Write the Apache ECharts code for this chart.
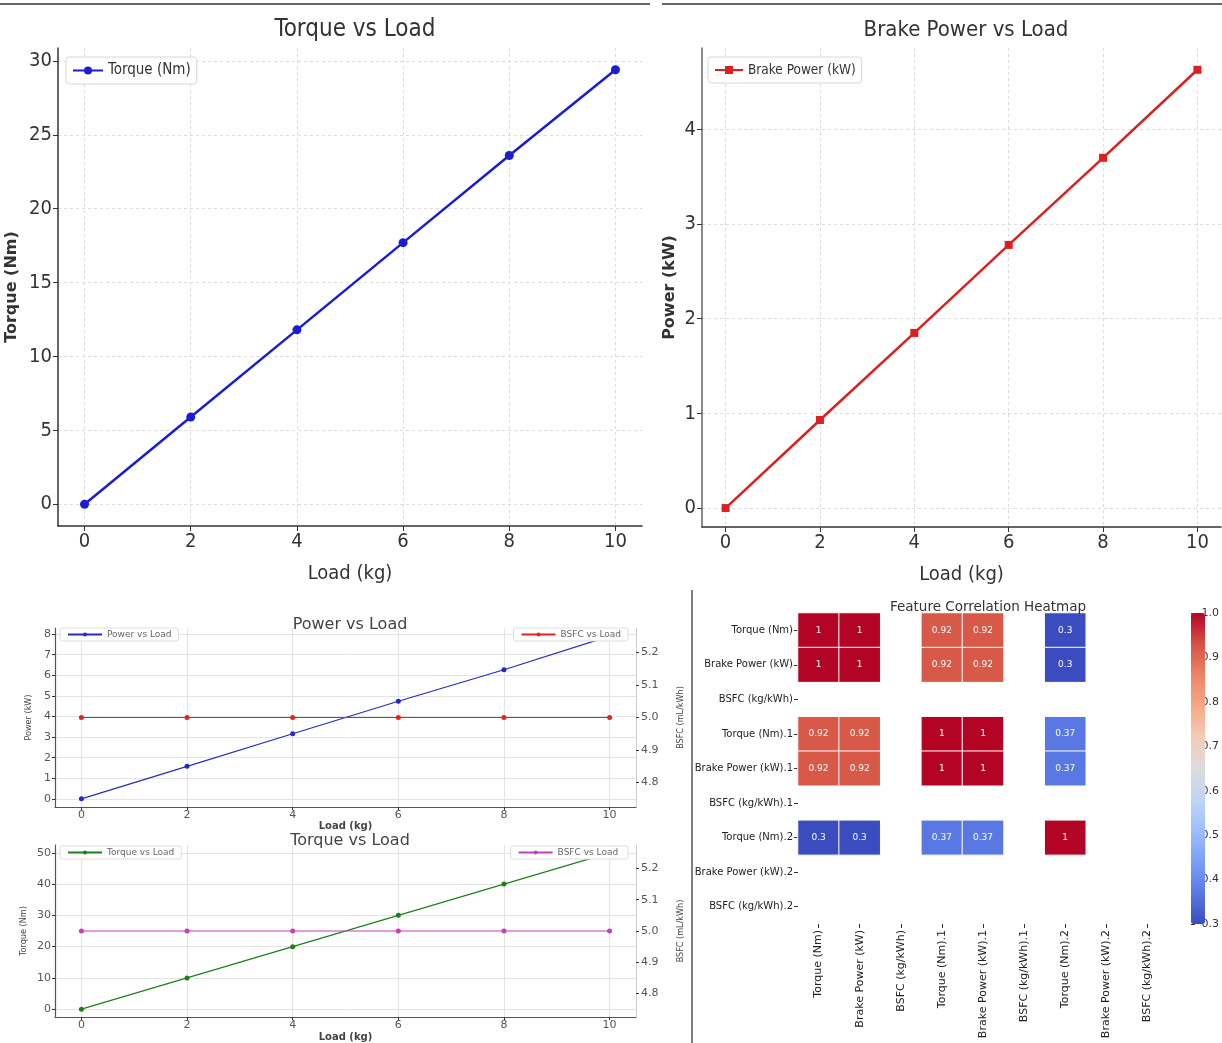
<!DOCTYPE html>
<html><head><meta charset="utf-8">
<script src="https://cdn.jsdelivr.net/npm/echarts@6/dist/echarts.min.js"></script>
<style>html,body{margin:0;padding:0;background:#fff}#c{width:1222px;height:1043px}</style>
</head><body><div id="c"></div><script>
// ---------- data ----------
const loadKg = [0, 2, 4, 6, 8, 10];
const torqueNm = [0, 5.9, 11.8, 17.7, 23.6, 29.4];
const brakePowerKW = [0, 0.93, 1.85, 2.78, 3.70, 4.63];
const powerVsLoad = [0, 1.58, 3.16, 4.74, 6.27, 7.9];
const bsfcPowerPanel = [5.0, 5.0, 5.0, 5.0, 5.0, 5.0];
const torqueVsLoad = [0, 10, 20, 30, 40, 50];
const bsfcTorquePanel = [5.0, 5.0, 5.0, 5.0, 5.0, 5.0];
const featureNames = ['Torque (Nm)', 'Brake Power (kW)', 'BSFC (kg/kWh)', 'Torque (Nm).1', 'Brake Power (kW).1', 'BSFC (kg/kWh).1', 'Torque (Nm).2', 'Brake Power (kW).2', 'BSFC (kg/kWh).2'];
const corrRow0 = [1, 1, null, 0.92, 0.92, null, 0.3, null, null];
const corrRow1 = [1, 1, null, 0.92, 0.92, null, 0.3, null, null];
const corrRow2 = [null, null, null, null, null, null, null, null, null];
const corrRow3 = [0.92, 0.92, null, 1, 1, null, 0.37, null, null];
const corrRow4 = [0.92, 0.92, null, 1, 1, null, 0.37, null, null];
const corrRow5 = [null, null, null, null, null, null, null, null, null];
const corrRow6 = [0.3, 0.3, null, 0.37, 0.37, null, 1, null, null];
const corrRow7 = [null, null, null, null, null, null, null, null, null];
const corrRow8 = [null, null, null, null, null, null, null, null, null];
const loadTicks = [0, 2, 4, 6, 8, 10];
const torqueTicks = [0, 5, 10, 15, 20, 25, 30];
const brakePowerTicks = [0, 1, 2, 3, 4];
const smallPowerTicks = [0, 1, 2, 3, 4, 5, 6, 7, 8];
const smallTorqueTicks = [0, 10, 20, 30, 40, 50];
const bsfcTicks = [4.8, 4.9, 5.0, 5.1, 5.2];
const coolwarm = ['#3b4cc0', '#5a78e4', '#7b9ff9', '#9ebeff', '#c0d4f5', '#dddcdc', '#f2cbb7', '#f7a889', '#ee8468', '#d65244', '#b40426'];

// ---------- helpers ----------
const pairs = (xs, ys) => xs.map((x, i) => [x, ys[i]]);
const corrRows = [corrRow0, corrRow1, corrRow2, corrRow3, corrRow4, corrRow5, corrRow6, corrRow7, corrRow8];
const heatData = [];
corrRows.forEach((row, i) => row.forEach((v, j) => { if (v !== null) heatData.push([j, i, v]); }));

const COND = '"DejaVu Sans Condensed", "Liberation Sans Narrow", "DejaVu Sans", sans-serif';
const DJ = '"DejaVu Sans", sans-serif';

function valueAxis(gi, min, max, ticks, o) {
  o = o || {};
  return Object.assign({
    type: 'value', gridIndex: gi, min: min, max: max,
    axisLine: { show: true, onZero: false, lineStyle: { color: o.lineColor || '#333', width: o.lineWidth || 1.5 } },
    axisTick: { show: true, customValues: ticks, length: o.tickLen || 5, lineStyle: { color: o.tickColor || '#333' } },
    axisLabel: { customValues: ticks, fontSize: o.fs || 20, color: o.labelColor || '#333', fontFamily: o.ff || COND, margin: o.margin || 6, formatter: o.fmt },
    splitLine: { show: o.split !== false, lineStyle: { color: o.splitColor || '#dcdcdc', type: o.splitType || [3, 3], width: 1 } }
  }, o.extra || {});
}

const smallLegend = { itemWidth: 34, itemHeight: 5, padding: [2, 7], borderColor: '#ddd', borderWidth: 1, borderRadius: 2, backgroundColor: '#fff', textStyle: { fontSize: 9, color: '#666', fontFamily: DJ } };

const option = {
  animation: false,
  backgroundColor: '#fff',
  title: [
    { text: 'Torque vs Load', left: 350, top: 13, textAlign: 'center', textStyle: { fontSize: 24, fontWeight: 'normal', color: '#333', fontFamily: COND } },
    { text: 'Brake Power vs Load', left: 961, top: 14, textAlign: 'center', textStyle: { fontSize: 22, fontWeight: 'normal', color: '#333', fontFamily: COND } },
    { text: 'Power vs Load', left: 345, top: 612, textAlign: 'center', textStyle: { fontSize: 16, fontWeight: 'normal', color: '#444', fontFamily: DJ } },
    { text: 'Torque vs Load', left: 345, top: 828, textAlign: 'center', textStyle: { fontSize: 16, fontWeight: 'normal', color: '#444', fontFamily: DJ } },
    { text: 'Feature Correlation Heatmap', left: 983, top: 595, textAlign: 'center', textStyle: { fontSize: 13.5, fontWeight: 'normal', color: '#333', fontFamily: DJ } }
  ],
  legend: [
    { data: ['Torque (Nm)'], left: 66, top: 57, itemWidth: 30, itemHeight: 10, padding: [6, 6], borderColor: '#d8d8d8', borderWidth: 1, borderRadius: 3, backgroundColor: '#fff', textStyle: { fontSize: 15, color: '#333', fontFamily: COND } },
    { data: ['Brake Power (kW)'], left: 708, top: 57, itemWidth: 28, itemHeight: 10, padding: [6, 6], borderColor: '#d8d8d8', borderWidth: 1, borderRadius: 3, backgroundColor: '#fff', textStyle: { fontSize: 13.5, color: '#333', fontFamily: COND } },
    Object.assign({ data: ['Power vs Load'], left: 60, top: 628 }, smallLegend),
    Object.assign({ data: ['BSFC vs Load'], right: 594, top: 628 }, smallLegend),
    Object.assign({ data: ['Torque vs Load'], left: 60, top: 846 }, smallLegend),
    Object.assign({ data: ['BSFC vs Load '], right: 594, top: 846 }, smallLegend)
  ],
  grid: [
    { left: 58, top: 48, width: 584, height: 478 },
    { left: 702, top: 48, width: 519, height: 479 },
    { left: 55, top: 628, width: 581, height: 179 },
    { left: 55, top: 845, width: 581, height: 177 },
    { left: 798, top: 613, width: 370, height: 311 },
    { left: 1191, top: 613, width: 14, height: 311 }
  ],
  xAxis: [
    valueAxis(0, -0.5, 10.5, loadTicks, { extra: { name: 'Load (kg)', nameLocation: 'middle', nameGap: 38, nameTextStyle: { fontSize: 20, color: '#333', fontFamily: COND } } }),
    valueAxis(1, -0.5, 10.5, loadTicks, { extra: { name: 'Load (kg)', nameLocation: 'middle', nameGap: 38, nameTextStyle: { fontSize: 20, color: '#333', fontFamily: COND } } }),
    valueAxis(2, -0.5, 10.5, loadTicks, { fs: 11, ff: DJ, labelColor: '#555', lineColor: '#555', tickLen: 3, margin: 3, lineWidth: 1.2, splitType: 'solid', splitColor: '#e4e4e4', extra: { name: 'Load (kg)', nameLocation: 'middle', nameGap: 14, nameTextStyle: { fontSize: 10, color: '#444', fontFamily: DJ, fontWeight: 'bold' } } }),
    valueAxis(3, -0.5, 10.5, loadTicks, { fs: 11, ff: DJ, labelColor: '#555', lineColor: '#555', tickLen: 3, margin: 3, lineWidth: 1.2, splitType: 'solid', splitColor: '#e4e4e4', extra: { name: 'Load (kg)', nameLocation: 'middle', nameGap: 15, nameTextStyle: { fontSize: 10, color: '#444', fontFamily: DJ, fontWeight: 'bold' } } }),
    { type: 'category', gridIndex: 4, data: featureNames, position: 'bottom',
      axisLine: { show: false }, splitLine: { show: false },
      axisTick: { show: true, alignWithLabel: true, length: 4, lineStyle: { color: '#333' } },
      axisLabel: { interval: 0, rotate: 90, fontSize: 11, color: '#222', fontFamily: DJ, margin: 6 } },
    { type: 'value', gridIndex: 5, show: false, min: 0, max: 1 }
  ],
  yAxis: [
    valueAxis(0, -1.47, 30.87, torqueTicks, { extra: { name: 'Torque (Nm)', nameLocation: 'middle', nameGap: 38, nameTextStyle: { fontSize: 16, fontWeight: 'bold', color: '#333', fontFamily: DJ } } }),
    valueAxis(1, -0.2, 4.86, brakePowerTicks, { lineColor: '#666', extra: { name: 'Power (kW)', nameLocation: 'middle', nameGap: 24, nameTextStyle: { fontSize: 16, fontWeight: 'bold', color: '#333', fontFamily: DJ } } }),
    valueAxis(2, -0.395, 8.295, smallPowerTicks, { fs: 11, ff: DJ, labelColor: '#555', lineColor: '#555', tickLen: 3, margin: 4, lineWidth: 1.2, splitType: 'solid', splitColor: '#e4e4e4', extra: { name: 'Power (kW)', nameLocation: 'middle', nameGap: 22, nameTextStyle: { fontSize: 9, color: '#444', fontFamily: COND } } }),
    valueAxis(2, 4.725, 5.275, bsfcTicks, { fs: 11, ff: DJ, labelColor: '#555', lineColor: '#ccc', tickLen: 3, margin: 5, lineWidth: 1, split: false, fmt: v => v.toFixed(1), extra: { position: 'right', name: 'BSFC (mL/kWh)', nameLocation: 'middle', nameGap: 40, nameRotate: 90, nameTextStyle: { fontSize: 9, color: '#444', fontFamily: COND } } }),
    valueAxis(3, -2.5, 52.5, smallTorqueTicks, { fs: 11, ff: DJ, labelColor: '#555', lineColor: '#555', tickLen: 3, margin: 4, lineWidth: 1.2, splitType: 'solid', splitColor: '#e4e4e4', extra: { name: 'Torque (Nm)', nameLocation: 'middle', nameGap: 27, nameTextStyle: { fontSize: 9, color: '#444', fontFamily: COND } } }),
    valueAxis(3, 4.725, 5.275, bsfcTicks, { fs: 11, ff: DJ, labelColor: '#555', lineColor: '#ccc', tickLen: 3, margin: 5, lineWidth: 1, split: false, fmt: v => v.toFixed(1), extra: { position: 'right', name: 'BSFC (mL/kWh)', nameLocation: 'middle', nameGap: 40, nameRotate: 90, nameTextStyle: { fontSize: 9, color: '#444', fontFamily: COND } } }),
    { type: 'category', gridIndex: 4, data: featureNames, inverse: true,
      axisLine: { show: false }, splitLine: { show: false },
      axisTick: { show: true, alignWithLabel: true, length: 4, lineStyle: { color: '#333' } },
      axisLabel: { interval: 0, fontSize: 10, color: '#222', fontFamily: DJ, margin: 5 } },
    { type: 'value', gridIndex: 5, position: 'right', min: 0.3, max: 1.0, interval: 0.1,
      axisLine: { show: false }, splitLine: { show: false },
      axisTick: { show: true, length: 4, lineStyle: { color: '#333' } },
      axisLabel: { fontSize: 11, color: '#333', fontFamily: DJ, margin: 4, formatter: v => v.toFixed(1) } }
  ],
  visualMap: {
    type: 'continuous', min: 0.3, max: 1.0, seriesIndex: 6, calculable: false,
    orient: 'vertical', left: 1191, top: 613, itemWidth: 14, itemHeight: 311, padding: 0,
    text: null, hoverLink: false,
    inRange: { color: coolwarm }
  },
  series: [
    { name: 'Torque (Nm)', type: 'line', xAxisIndex: 0, yAxisIndex: 0, data: pairs(loadKg, torqueNm),
      color: '#1c1cd2', symbol: 'circle', symbolSize: 9, lineStyle: { width: 2.5 } },
    { name: 'Brake Power (kW)', type: 'line', xAxisIndex: 1, yAxisIndex: 1, data: pairs(loadKg, brakePowerKW),
      color: '#dc2020', symbol: 'rect', symbolSize: 8, lineStyle: { width: 2.5 } },
    { name: 'Power vs Load', type: 'line', xAxisIndex: 2, yAxisIndex: 2, data: pairs(loadKg, powerVsLoad),
      color: '#2929c4', symbol: 'circle', symbolSize: 5, lineStyle: { width: 1.2 } },
    { name: 'BSFC vs Load', type: 'line', xAxisIndex: 2, yAxisIndex: 3, data: pairs(loadKg, bsfcPowerPanel),
      color: '#e02424', symbol: 'circle', symbolSize: 5, lineStyle: { width: 1.2 } },
    { name: 'Torque vs Load', type: 'line', xAxisIndex: 3, yAxisIndex: 4, data: pairs(loadKg, torqueVsLoad),
      color: '#1f7f1f', symbol: 'circle', symbolSize: 5, lineStyle: { width: 1.2 } },
    { name: 'BSFC vs Load ', type: 'line', xAxisIndex: 3, yAxisIndex: 5, data: pairs(loadKg, bsfcTorquePanel),
      color: '#c040c0', symbol: 'circle', symbolSize: 5, lineStyle: { width: 1.2 } },
    { name: 'corr', type: 'heatmap', xAxisIndex: 4, yAxisIndex: 6, data: heatData,
      itemStyle: { borderColor: '#fff', borderWidth: 1 },
      label: { show: true, fontSize: 9, color: '#fff', fontFamily: DJ, formatter: p => String(p.value[2]) } }
  ],
  graphic: [
    { type: 'line', shape: { x1: 0, y1: 4, x2: 650, y2: 4 }, style: { stroke: '#666', lineWidth: 2 }, silent: true },
    { type: 'line', shape: { x1: 662, y1: 4, x2: 1222, y2: 4 }, style: { stroke: '#666', lineWidth: 2 }, silent: true },
    { type: 'line', shape: { x1: 692, y1: 590, x2: 692, y2: 1043 }, style: { stroke: '#555', lineWidth: 1.5 }, silent: true }
  ]
};
const chart = echarts.init(document.getElementById('c'), null, { renderer: 'canvas' });
chart.setOption(option);
</script></body></html>
